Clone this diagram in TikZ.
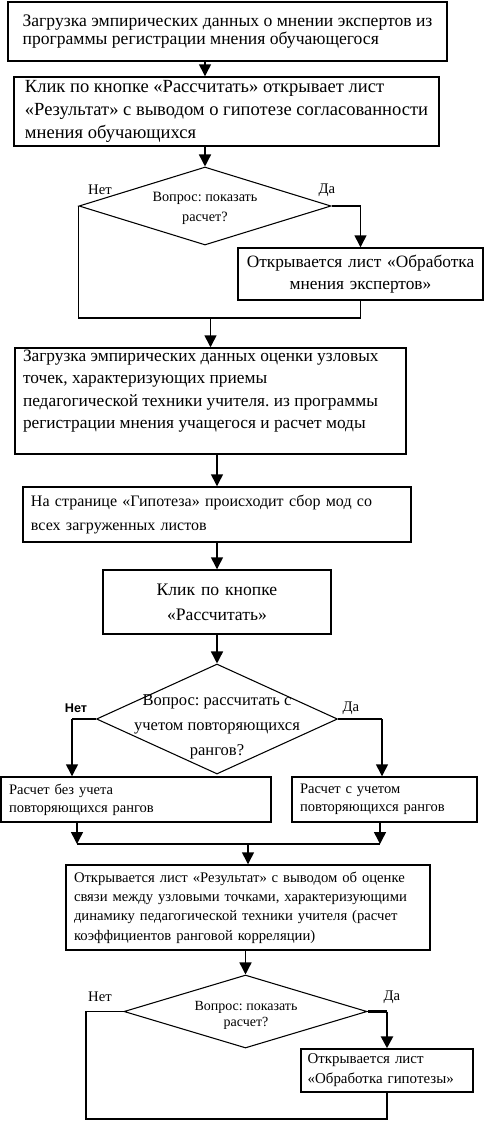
\documentclass[tikz,border=0pt]{standalone}
\usepackage{fontspec}
\setmainfont{Liberation Serif}
\newfontfamily\arialfont{Liberation Sans}
\usetikzlibrary{shapes.geometric,arrows.meta}
\frenchspacing

\tikzset{
  blok/.style={draw, rectangle, line width=1.1pt, inner xsep=6pt, inner ysep=0pt, align=left},
  romb/.style={draw, diamond, line width=0.8pt, inner sep=0pt},
  linia/.style={line width=1.1pt},
  tolsto/.style={line width=2pt},
  strelka/.style={line width=1.1pt, -{Triangle[length=9pt,width=9pt]}},
  bolshoy/.style={font=\fontsize{13}{16.7}\selectfont},
  melkiy/.style={font=\fontsize{11}{14.5}\selectfont}
}

\begin{document}
\begin{tikzpicture}[x=0.75pt,y=-0.75pt]
  \useasboundingbox (0,0) rectangle (484,1122);

  % verhnyaya chast
  \node[blok, minimum width=329.25pt, minimum height=44.25pt, font=\fontsize{13.2}{14}\selectfont] (b1) at (227.5,31.5)
    {Загрузка эмпирических данных о мнении экспертов из\\программы регистрации мнения обучающегося};
  \node[blok, minimum width=318.75pt, minimum height=51.75pt, font=\fontsize{13.9}{17}\selectfont] (b2) at (226.5,111.5)
    {Клик по кнопке «Рассчитать» открывает лист\\«Результат» с выводом о гипотезе согласованности\\мнения обучающихся};

  \node[romb, minimum width=189pt, minimum height=58.5pt] (d1) at (205,206) {};
  \node[font=\fontsize{10.7}{15}\selectfont, align=center, inner sep=0pt] (t1) at (205,208) {Вопрос: показать\\расчет?};
  \node[melkiy] (l1n) at (100,190) {Нет};
  \node[melkiy] (l1d) at (327,190) {Да};

  \node[blok, align=center, inner xsep=2pt, text width=179.75pt, minimum height=39pt, font=\fontsize{13}{16}\selectfont] (b3) at (360.5,274)
    {Открывается лист «Обработка\\мнения экспертов»};

  \coordinate (j1) at (210.5,318);

  \node[blok, bolshoy, inner ysep=1.5pt] (b4) at (210.5,401)
    {\parbox[c][76.5pt][t]{281.25pt}{\raggedright Загрузка эмпирических данных оценки узловых\\точек, характеризующих приемы\\педагогической техники учителя. из программы\\регистрации мнения учащегося и расчет моды}};
  \node[blok, text width=279pt, minimum height=41.25pt, font=\fontsize{12}{18}\selectfont] (b5) at (217,514.5)
    {На странице «Гипотеза» происходит сбор мод со\\всех загруженных листов};
  \node[blok, align=center, text width=159pt, minimum height=48pt, font=\fontsize{13.2}{19}\selectfont] (b6) at (217,602)
    {Клик по кнопке\\«Рассчитать»};

  % vtoroy vopros
  \node[romb, minimum width=180.75pt, minimum height=82.5pt] (d2) at (217,719) {};
  \node[font=\fontsize{12.4}{18.5}\selectfont, align=center, inner sep=0pt] (t2) at (217,727) {Вопрос: рассчитать с\\учетом повторяющихся\\рангов?};
  \node[font=\arialfont\bfseries\fontsize{9.5}{11}\selectfont] (l2n) at (76,708) {Нет};
  \node[melkiy] (l2d) at (351,708) {Да};
  \coordinate (n2) at (72,719);
  \coordinate (y2) at (382,719);

  \node[blok, text width=190.5pt, minimum height=33.75pt, font=\fontsize{10.9}{13.5}\selectfont] (b7) at (136,799.5)
    {Расчет без учета\\повторяющихся рангов};
  \node[blok, text width=126.75pt, minimum height=33.75pt, font=\fontsize{10.9}{13.5}\selectfont] (b8) at (384.5,799.5)
    {Расчет с учетом\\повторяющихся рангов};

  \coordinate (m1) at (77,844);
  \coordinate (m2) at (380,844);

  \node[blok, text width=261pt, minimum height=63.75pt, font=\fontsize{11}{14.6}\selectfont] (b9) at (248,907.5)
    {Открывается лист «Результат» с выводом об оценке\\связи между узловыми точками, характеризующими\\динамику педагогической техники учителя (расчет\\коэффициентов ранговой корреляции)};

  % tretiy vopros
  \node[romb, minimum width=182.25pt, minimum height=54.75pt] (d3) at (245.5,1011.5) {};
  \node[font=\fontsize{10.5}{12}\selectfont, align=center, inner sep=0pt] (t3) at (246,1015) {Вопрос: показать\\расчет?};
  \node[melkiy] (l3n) at (100,997) {Нет};
  \node[melkiy] (l3d) at (392,997) {Да};

  \node[blok, inner xsep=5pt, text width=119pt, minimum height=32.25pt, font=\fontsize{11.2}{15}\selectfont] (b10) at (387,1070.5)
    {Открывается лист\\«Обработка гипотезы»};
  \coordinate (k3) at (86,1119);

  % strelki
  \draw[strelka] (b1.south -| d1.north) -- (b2.north -| d1.north);
  \draw[strelka] (b2.south -| d1.north) -- (d1.north);
  \draw[strelka] (d1.east) -| (b3.north);
  \draw[linia] (d1.west) |- (j1);
  \draw[linia] (b3.south) |- (j1);
  \draw[strelka] (j1) -- (b4.north);
  \draw[strelka] (b4.south -| b5.north) -- (b5.north);
  \draw[strelka] (b5.south) -- (b6.north);
  \draw[strelka] (b6.south) -- (d2.north);

  \draw[tolsto] (d2.west) -- (n2);
  \draw[strelka] (n2) -- (n2 |- b7.north);
  \draw[tolsto] (d2.east) -- (y2);
  \draw[strelka] (y2) -- (y2 |- b8.north);

  \draw[strelka] (b7.south -| m1) -- (m1);
  \draw[strelka] (b8.south -| m2) -- (m2);
  \draw[linia] (m1) -- (m2);
  \draw[strelka] (b9.north |- m1) -- (b9.north);
  \draw[strelka] (b9.south -| d3.north) -- (d3.north);

  \draw[tolsto] (d3.east) -- (d3.east -| b10.north);
  \draw[strelka, tolsto] (d3.east -| b10.north) -- (b10.north);
  \draw[linia] (d3.west) -| (k3) -| (b10.south);
\end{tikzpicture}
\end{document}
